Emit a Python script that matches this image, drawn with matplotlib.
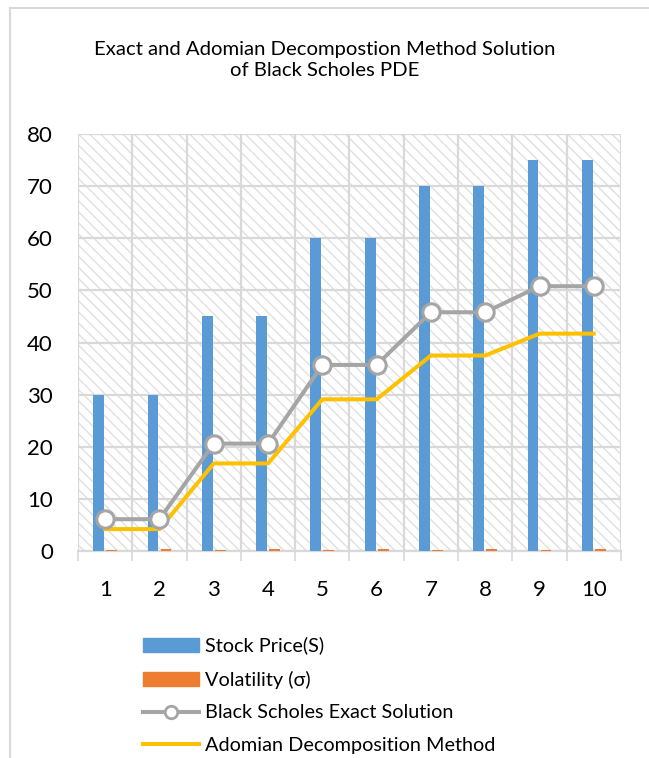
import numpy as np
import matplotlib
matplotlib.use("Agg")
import matplotlib.pyplot as plt
from matplotlib.lines import Line2D
from matplotlib.patches import Patch

plt.rcParams['font.family'] = ['Lato', 'DejaVu Sans']
plt.rcParams['hatch.linewidth'] = 1.0

# series per time step
steps = [1, 2, 3, 4, 5, 6, 7, 8, 9, 10]
stock_price = [30, 30, 45, 45, 60, 60, 70, 70, 75, 75]
volatility = [0.2, 0.3, 0.2, 0.3, 0.2, 0.3, 0.2, 0.3, 0.2, 0.3]
bs_exact = [6.1, 6.1, 20.6, 20.6, 35.7, 35.7, 45.8, 45.8, 50.8, 50.8]
adomian = [4.2, 4.2, 16.8, 16.8, 29.1, 29.1, 37.5, 37.5, 41.7, 41.7]

blue = '#5b9bd5'
orange = '#ed7d31'
gray = '#a5a5a5'
gold = '#ffc000'
grid = '#d9d9d9'

fig = plt.figure(figsize=(6.49, 7.58), dpi=100)
ax = fig.add_axes([0.1202, 0.2731, 0.8366, 0.5501])

# hatched plot area
ax.patch.set_facecolor('white')
ax.patch.set_hatch('\\\\\\')
ax.patch.set_edgecolor('#e0e0e0')

x = np.array(steps)
ax.bar(x - 0.12, stock_price, width=0.2, color=blue, zorder=3)
ax.bar(x + 0.12, volatility, width=0.2, color=orange, zorder=3)
ax.plot(x, bs_exact, color=gray, lw=2.9, marker='o', ms=12.5,
        mfc='white', mec=gray, mew=2.2, zorder=5)
ax.plot(x, adomian, color=gold, lw=2.9, zorder=4)

ax.set_xlim(0.5, 10.5)
ax.set_ylim(0, 80)
ax.set_yticks(np.arange(0, 81, 10))
ax.set_xticks(x)
ax.set_xticks(np.arange(0.5, 11, 1), minor=True)

ax.grid(axis='y', color=grid, lw=1.6, zorder=1)
ax.grid(axis='x', which='minor', color=grid, lw=1.6, zorder=1)
for s in ['top', 'right', 'left']:
    ax.spines[s].set_visible(False)
ax.spines['bottom'].set_color(grid)
ax.spines['bottom'].set_linewidth(1.6)

ax.tick_params(axis='y', length=0, pad=18, labelsize=16, labelcolor='black')
ax.tick_params(axis='x', which='major', length=0, pad=21, labelsize=16)
ax.tick_params(axis='x', which='minor', length=7, width=1.2, color=grid)

fig.text(0.5, 1 - 60 / 758, 'Exact and Adomian Decompostion Method Solution\nof Black Scholes PDE',
         ha='center', va='center', fontsize=14.6, linespacing=1.25)

handles = [Patch(color=blue), Patch(color=orange),
           Line2D([], [], color=gray, lw=2.9, marker='o', ms=9, mfc='white', mec=gray, mew=2),
           Line2D([], [], color=gold, lw=2.9)]
labels = ['Stock Price(S)', 'Volatility (\u03c3)', 'Black Scholes Exact Solution',
          'Adomian Decomposition Method']
fig.legend(handles, labels, loc='upper left', bbox_to_anchor=(143 / 649, 0.160),
           frameon=False, fontsize=14.3, handlelength=2.8, handleheight=0.7,
           handletextpad=0.3, labelspacing=0.8, borderpad=0, borderaxespad=0)

# chart frame on the left and top
fig.add_artist(Line2D([10 / 649, 10 / 649], [0, 1 - 8 / 758], color=grid, lw=1.5))
fig.add_artist(Line2D([10 / 649, 1], [1 - 8 / 758, 1 - 8 / 758], color=grid, lw=1.5))

fig.savefig('out.png', dpi=100)
